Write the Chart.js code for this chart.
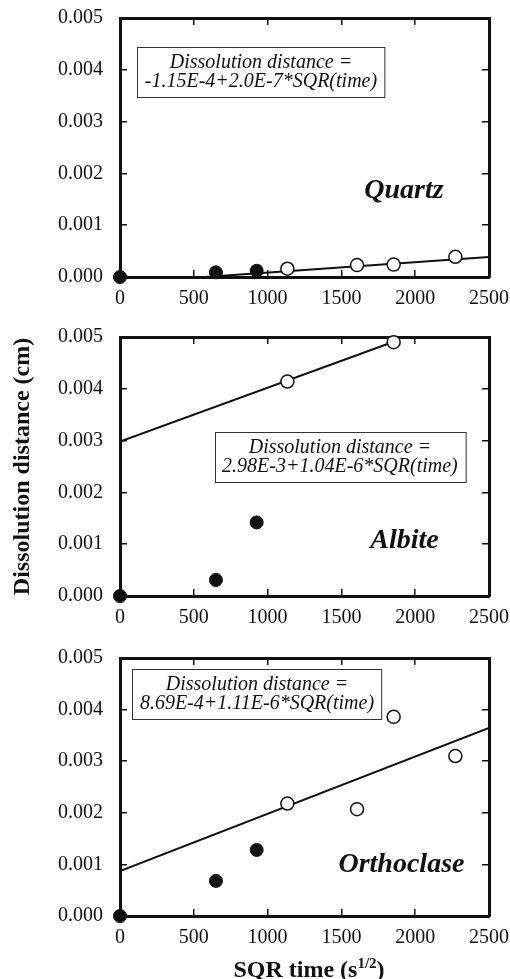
<!DOCTYPE html>
<html lang="en">
<head>
  <meta charset="UTF-8" />
  <title>Dissolution distance vs SQR time</title>
  <script src="https://cdn.jsdelivr.net/npm/chart.js"></script>
  <style>
    body { margin: 0; background: #fff; }
    #figure {
      position: relative;
      width: 510px;
      height: 979px;
      overflow: hidden;
      font-family: 'Liberation Serif', serif;
      color: #111;
    }
    #figure canvas { position: absolute; left: 0; }
    .x-title {
      position: absolute;
      left: 159px;
      width: 300px;
      top: 957px;
      text-align: center;
      font-weight: bold;
      font-size: 24px;
      line-height: 24px;
      white-space: nowrap;
    }
    .x-title sup { font-size: 15px; vertical-align: 9px; line-height: 0; }
  </style>
</head>
<body>
  <div id="figure">
    <canvas id="quartz" width="510" height="319" style="top:0"></canvas>
    <canvas id="albite" width="510" height="321" style="top:319px"></canvas>
    <canvas id="orthoclase" width="510" height="339" style="top:640px"></canvas>
    <div class="x-title">SQR time (s<sup>1/2</sup>)</div>
  </div>
  <script>
    // axis ticks
    const xTicks = [0, 500, 1000, 1500, 2000, 2500];
    const yTicks = [0, 0.001, 0.002, 0.003, 0.004, 0.005];
    const yTickLabels = ['0.000', '0.001', '0.002', '0.003', '0.004', '0.005'];

    // SQR time of each sample (s^1/2)
    const earlyTime = [0, 650, 926];
    const lateTime = [1134, 1606, 1854, 2272];
    const albiteLateTime = [1134, 1854];

    // measured dissolution distance (cm)
    const quartzEarly = [0, 0.00009, 0.00012];
    const quartzLate = [0.00016, 0.00023, 0.00024, 0.00039];
    const albiteEarly = [0, 0.00031, 0.00142];
    const albiteLate = [0.00414, 0.0049];
    const orthoEarly = [0, 0.00068, 0.00128];
    const orthoLate = [0.00218, 0.00207, 0.00386, 0.0031];

    // linear fits: [intercept, slope] and the time span drawn
    const quartzFit = [-1.15e-4, 2.0e-7];
    const albiteFit = [2.98e-3, 1.04e-6];
    const orthoFit = [8.69e-4, 1.11e-6];
    const quartzFitSpan = [575, 2500];
    const albiteFitSpan = [0, 1854];
    const orthoFitSpan = [0, 2500];

    // equation text in each panel
    const quartzEq = ['Dissolution distance =', '-1.15E-4+2.0E-7*SQR(time)'];
    const albiteEq = ['Dissolution distance =', '2.98E-3+1.04E-6*SQR(time)'];
    const orthoEq = ['Dissolution distance =', '8.69E-4+1.11E-6*SQR(time)'];

    const FONT = '"Liberation Serif", serif';
    const INK = '#111';
    Chart.defaults.font.family = FONT;
    Chart.defaults.color = INK;

    const toPoints = (xs, ys) => xs.map((x, i) => ({ x: x, y: ys[i] }));
    const fitPoints = (fit, span) => span.map(x => ({ x: x, y: fit[0] + fit[1] * x }));

    // equation box + mineral name, anchored in data units
    const panelText = {
      id: 'panelText',
      afterDatasetsDraw(chart, args, opts) {
        const { ctx, scales: { x, y } } = chart;
        ctx.save();
        ctx.font = 'italic 20px ' + FONT;
        const w = Math.max(...opts.eq.map(t => ctx.measureText(t).width)) + 15;
        const h = 50;
        const cx = x.getPixelForValue(opts.eqAt[0]);
        const cy = y.getPixelForValue(opts.eqAt[1]);
        const left = Math.round(cx - w / 2) + 0.5;
        const top = Math.round(cy - h / 2) + 0.5;
        ctx.fillStyle = '#fff';
        ctx.fillRect(left, top, w, h);
        ctx.strokeStyle = '#333';
        ctx.lineWidth = 1;
        ctx.strokeRect(left, top, w, h);
        ctx.fillStyle = INK;
        ctx.textAlign = 'center';
        ctx.textBaseline = 'middle';
        opts.eq.forEach((t, i) => ctx.fillText(t, cx, top + 5 + 19.5 * (i + 0.5)));

        ctx.font = 'italic bold 28px ' + FONT;
        ctx.fillText(opts.name, x.getPixelForValue(opts.nameAt[0]), y.getPixelForValue(opts.nameAt[1]));
        ctx.restore();
      }
    };

    // inward tick marks, heavy frame
    const grid = { drawOnChartArea: false, drawTicks: true, tickLength: -7, color: INK, lineWidth: 1.5 };
    const border = { color: INK, width: 3 };

    // fixed axis sizes; label overhang is left to the layout padding
    const fixX = h => s => { s.height = h; s.paddingLeft = 0; s.paddingRight = 0; };
    const fixY = w => s => { s.width = w; s.paddingTop = 0; s.paddingBottom = 0; };

    function makePanel(id, cfg) {
      new Chart(document.getElementById(id), {
        type: 'scatter',
        data: {
          datasets: [
            {
              data: toPoints(earlyTime, cfg.early),
              pointRadius: 6.5,
              pointBackgroundColor: INK,
              pointBorderColor: INK,
              pointBorderWidth: 1,
              clip: false
            },
            {
              data: toPoints(cfg.lateTime, cfg.late),
              pointRadius: 6.5,
              pointBackgroundColor: '#fff',
              pointBorderColor: INK,
              pointBorderWidth: 1.5,
              clip: false
            },
            {
              data: fitPoints(cfg.fit, cfg.span),
              showLine: true,
              borderColor: INK,
              borderWidth: 2,
              pointRadius: 0
            }
          ]
        },
        options: {
          responsive: false,
          animation: false,
          events: [],
          layout: { autoPadding: false, padding: { top: 18, right: 21, bottom: cfg.padBottom, left: 0 } },
          plugins: {
            legend: { display: false },
            tooltip: { enabled: false },
            panelText: { eq: cfg.eq, eqAt: cfg.eqAt, name: cfg.name, nameAt: cfg.nameAt }
          },
          scales: {
            x: {
              type: 'linear', position: 'bottom', min: 0, max: 2500,
              afterBuildTicks: s => { s.ticks = xTicks.map(v => ({ value: v })); },
              afterFit: fixX(40),
              grid: grid, border: border,
              ticks: { padding: 17, color: INK, font: { size: 20 }, maxRotation: 0, autoSkip: false,
                       callback: (v, i) => String(xTicks[i]) }
            },
            x2: {
              type: 'linear', position: 'top', min: 0, max: 2500,
              afterBuildTicks: s => { s.ticks = xTicks.map(v => ({ value: v })); },
              afterFit: fixX(0),
              grid: grid, border: border,
              ticks: { display: false }
            },
            y: {
              type: 'linear', position: 'left', min: 0, max: 0.005,
              afterBuildTicks: s => { s.ticks = yTicks.map(v => ({ value: v })); },
              afterFit: fixY(120),
              grid: grid, border: border,
              ticks: { padding: 24, color: INK, font: { size: 20 }, autoSkip: false,
                       callback: (v, i) => yTickLabels[i] },
              title: {
                display: !!cfg.yTitle,
                text: cfg.yTitle || '',
                color: INK,
                font: { size: 24, weight: 'bold' },
                padding: { top: 8, bottom: 0 }
              }
            },
            y2: {
              type: 'linear', position: 'right', min: 0, max: 0.005,
              afterBuildTicks: s => { s.ticks = yTicks.map(v => ({ value: v })); },
              afterFit: fixY(0),
              grid: grid, border: border,
              ticks: { display: false }
            }
          }
        },
        plugins: [panelText]
      });
    }

    makePanel('quartz', {
      early: quartzEarly, lateTime: lateTime, late: quartzLate,
      fit: quartzFit, span: quartzFitSpan,
      eq: quartzEq, eqAt: [955, 0.00396],
      name: 'Quartz', nameAt: [1924, 0.00166],
      padBottom: 2
    });

    makePanel('albite', {
      early: albiteEarly, lateTime: albiteLateTime, late: albiteLate,
      fit: albiteFit, span: albiteFitSpan,
      eq: albiteEq, eqAt: [1490, 0.00269],
      name: 'Albite', nameAt: [1927, 0.00107],
      yTitle: 'Dissolution distance (cm)',
      padBottom: 4
    });

    makePanel('orthoclase', {
      early: orthoEarly, lateTime: lateTime, late: orthoLate,
      fit: orthoFit, span: orthoFitSpan,
      eq: orthoEq, eqAt: [928, 0.00431],
      name: 'Orthoclase', nameAt: [1907, 0.00099],
      padBottom: 23
    });
  </script>
</body>
</html>
